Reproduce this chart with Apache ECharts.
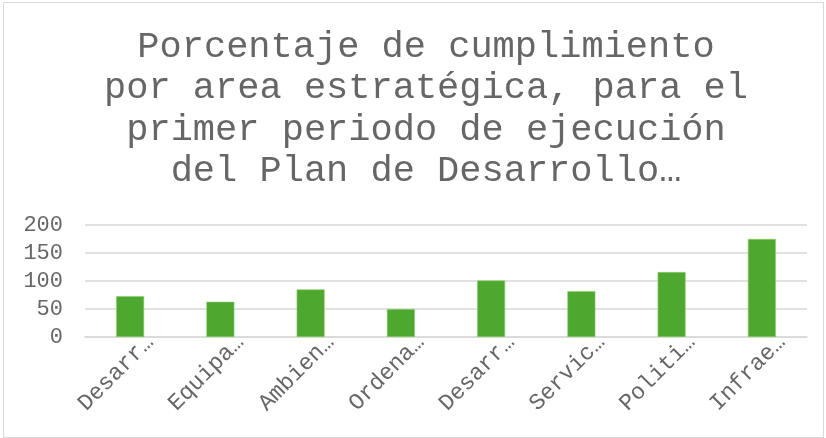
<!DOCTYPE html>
<html>
<head>
<meta charset="utf-8">
<script src="https://cdn.jsdelivr.net/npm/echarts@6/dist/echarts.min.js"></script>
<style>
  html, body { margin: 0; padding: 0; background: #fff; }
  #frame { position: absolute; left: 3px; top: 2px; width: 819px; height: 434px; border: 1px solid #d9d9d9; }
  #chart { position: absolute; left: 0; top: 0; width: 826px; height: 438px; }
</style>
</head>
<body>
<div id="frame"></div>
<div id="chart"></div>
<script>
// categories as shown (Excel truncated them)
const categories = ['Desarr…', 'Equipa…', 'Ambien…', 'Ordena…', 'Desarr…', 'Servic…', 'Politi…', 'Infrae…']
const cumplimiento = [73, 63, 85, 50, 101, 82, 116, 175]
const titleLines = [
  'Porcentaje de cumplimiento',
  'por area estratégica, para el',
  'primer periodo de ejecución',
  'del Plan de Desarrollo…'
]

const fontMono = "'Courier New', 'Liberation Mono', monospace"
const grey = '#666666'

const myChart = echarts.init(document.getElementById('chart'))
myChart.setOption({
  backgroundColor: 'transparent',
  animation: false,
  title: {
    text: titleLines.join('\n'),
    left: 421,
    textAlign: 'center',
    top: 21,
    textStyle: {
      fontFamily: fontMono,
      fontSize: 37,
      fontWeight: 'normal',
      lineHeight: 41.5,
      color: grey
    }
  },
  grid: {
    left: 85,
    right: 19,
    top: 225,
    bottom: 101
  },
  xAxis: {
    type: 'category',
    data: categories,
    axisLine: { lineStyle: { color: '#d9d9d9', width: 1.5 } },
    axisTick: { show: false },
    axisLabel: {
      interval: 0,
      rotate: 45,
      margin: 0,
      verticalAlign: 'top',
      padding: [4, -13, 0, 0],
      fontFamily: fontMono,
      fontSize: 23,
      color: grey
    }
  },
  yAxis: {
    type: 'value',
    min: 0,
    max: 200,
    interval: 50,
    axisLine: { show: false },
    axisTick: { show: false },
    splitLine: { lineStyle: { color: '#d9d9d9', width: 1.5 } },
    axisLabel: {
      margin: 22,
      fontFamily: fontMono,
      fontSize: 22,
      color: grey
    }
  },
  series: [{
    type: 'bar',
    data: cumplimiento,
    barWidth: '31%',
    itemStyle: { color: '#4ea72e', borderColor: '#8fd06f', borderWidth: 0.6 }
  }]
})
</script>
</body>
</html>
